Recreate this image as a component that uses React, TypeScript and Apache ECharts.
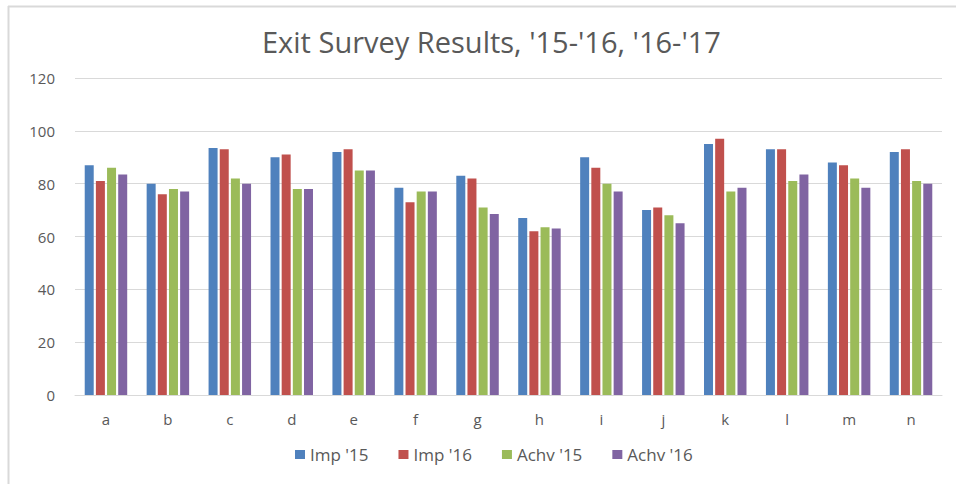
import React, { useEffect, useRef } from "react";
import * as echarts from "echarts";

const categories = ["a", "b", "c", "d", "e", "f", "g", "h", "i", "j", "k", "l", "m", "n"];
const seriesNames = ["Imp '15", "Imp '16", "Achv '15", "Achv '16"];
const imp15 = [87, 80, 93.5, 90, 92, 78.5, 83, 67, 90, 70, 95, 93, 88, 92];
const imp16 = [81, 76, 93, 91, 93, 73, 82, 62, 86, 71, 97, 93, 87, 93];
const achv15 = [86, 78, 82, 78, 85, 77, 71, 63.5, 80, 68, 77, 81, 82, 81];
const achv16 = [83.5, 77, 80, 78, 85, 77, 68.5, 63, 77, 65, 78.5, 83.5, 78.5, 80];
const yTicks = { min: 0, max: 120, interval: 20 };
const colors = ["#4F81BD", "#C0504D", "#9BBB59", "#8064A2"];

export default function App() {
  const ref = useRef<HTMLDivElement>(null);
  useEffect(() => {
    if (!ref.current) return;
    const chart = echarts.init(ref.current, undefined, { renderer: "svg" });
    const data = [imp15, imp16, achv15, achv16];
    chart.setOption({
      animation: false,
      backgroundColor: "#ffffff",
      title: {
        text: "Exit Survey Results, '15-'16, '16-'17",
        left: 257,
        top: 22,
        textStyle: {
          fontFamily: "Open Sans, sans-serif",
          fontSize: 29,
          fontWeight: "normal",
          color: "#595959",
        },
      },
      graphic: [
        { type: "line", shape: { x1: 8, y1: 6.5, x2: 956, y2: 6.5 }, style: { stroke: "#d9d9d9", lineWidth: 2 } },
        { type: "line", shape: { x1: 8.5, y1: 6, x2: 8.5, y2: 484 }, style: { stroke: "#d9d9d9", lineWidth: 2 } },
      ],
      legend: {
        data: seriesNames,
        bottom: 16,
        left: 290,
        icon: "rect",
        itemWidth: 10,
        itemHeight: 9,
        itemGap: 30,
        textStyle: { fontFamily: "Open Sans, sans-serif", fontSize: 17, color: "#595959" },
      },
      grid: { left: 75, right: 14, top: 78, bottom: 89, containLabel: false, outerBoundsMode: "none" },
      xAxis: {
        type: "category",
        data: categories,
        axisLine: { lineStyle: { color: "#d9d9d9", width: 1 } },
        axisTick: { show: false },
        axisLabel: { margin: 16, fontFamily: "Open Sans, sans-serif", fontSize: 15, color: "#595959" },
      },
      yAxis: {
        type: "value",
        min: yTicks.min,
        max: yTicks.max,
        interval: yTicks.interval,
        axisLine: { show: false },
        axisTick: { show: false },
        splitLine: { lineStyle: { color: "#d9d9d9", width: 1 } },
        axisLabel: { margin: 20, fontFamily: "Open Sans, sans-serif", fontSize: 15, color: "#595959" },
      },
      series: seriesNames.map((name, i) => ({
        name,
        type: "bar",
        data: data[i],
        barWidth: 9,
        barGap: "24%",
        itemStyle: { color: colors[i] },
      })),
    });
    return () => chart.dispose();
  }, []);
  return <div ref={ref} style={{ position: "fixed", left: 0, top: 0, width: 956, height: 484 }} />;
}
